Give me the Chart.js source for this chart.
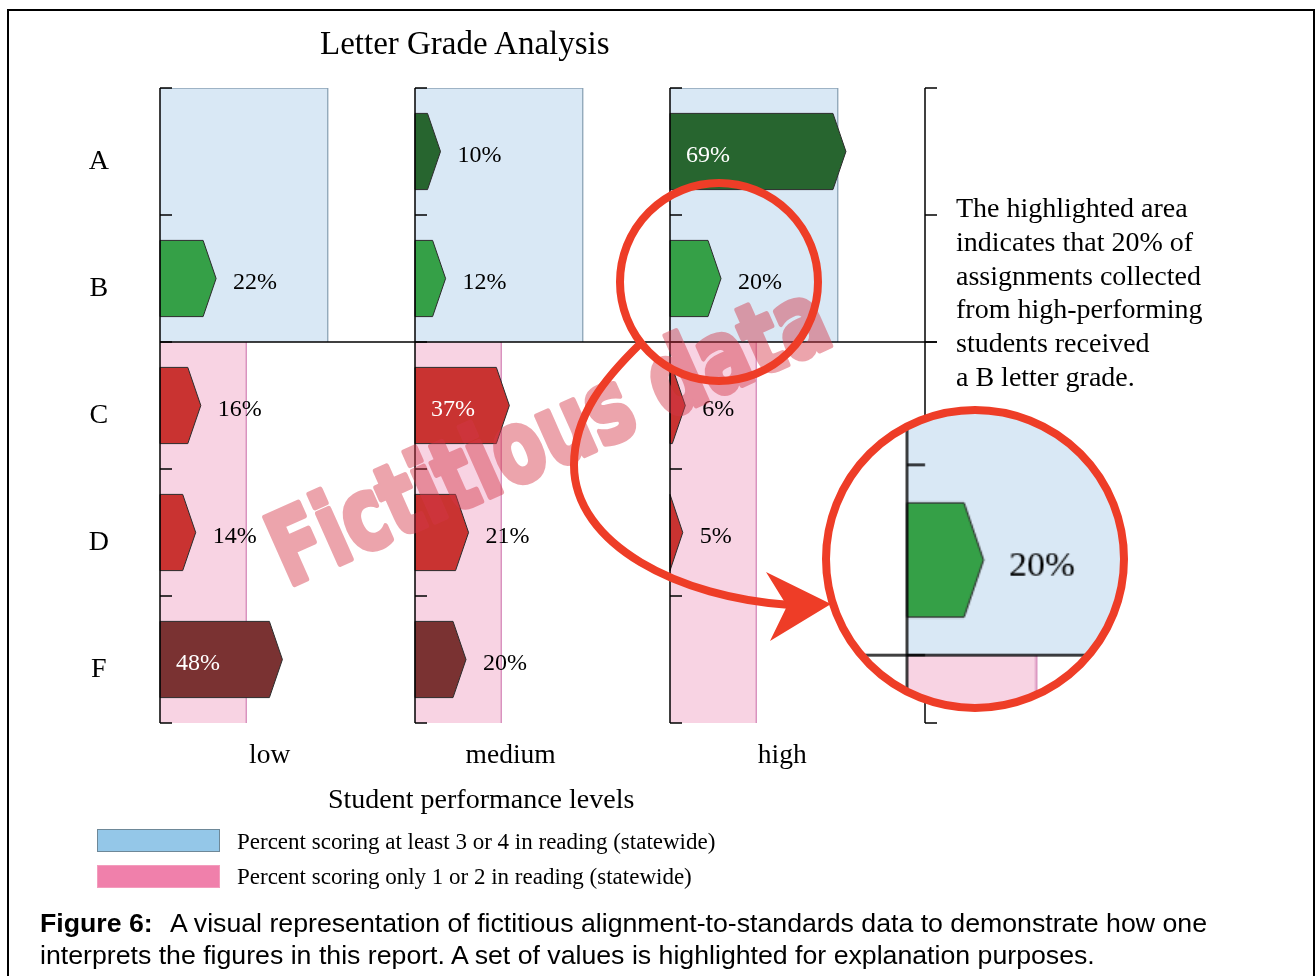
<!DOCTYPE html>
<html>
<head>
<meta charset="utf-8">
<title>Letter Grade Analysis</title>
<script src="https://cdn.jsdelivr.net/npm/chart.js@4.4.1/dist/chart.umd.min.js"></script>
<style>
  body { margin: 0; background: #fff; width: 1316px; height: 976px; overflow: hidden; position: relative; }
  #chart { position: absolute; left: 0; top: 0; }
  #frame { position: absolute; left: 7px; top: 9px; width: 1304px; height: 990px;
           border: 2px solid #000; border-bottom: none; }
  .serif { position: absolute; font-family: 'Liberation Serif', 'Times New Roman', serif; color: #000; white-space: nowrap; }
  #title { left: 320px; top: 24px; font-size: 33px; line-height: 38px; }
  #xtitle { left: 328px; top: 783px; font-size: 28px; line-height: 32px; }
  #note { left: 956px; top: 191px; font-size: 28px; line-height: 33.8px; }
  .swatch { position: absolute; left: 97px; width: 121px; height: 21px; }
  #swBlue { top: 829px; background: #94c7e8; border: 1px solid #6e8898; }
  #swPink { top: 865px; background: #f080ab; border: 1px solid #f39cbd; }
  .legtext { left: 237px; font-size: 23px; line-height: 26px; }
  #caption { position: absolute; left: 40px; top: 907px; font-family: 'Liberation Sans', Arial, sans-serif;
             font-size: 26.7px; line-height: 32px; color: #000; white-space: nowrap; }
  #caption b { margin-right: 4px; }
</style>
</head>
<body>
<div id="frame"></div>
<canvas id="chart" width="1316" height="976"></canvas>
<div class="serif" id="title">Letter Grade Analysis</div>
<div class="serif" id="xtitle">Student performance levels</div>
<div class="serif" id="note">The highlighted area<br>indicates that 20% of<br>assignments collected<br>from high-performing<br>students received<br>a B letter grade.</div>
<div class="swatch" id="swBlue"></div>
<div class="serif legtext" style="top:829px">Percent scoring at least 3 or 4 in reading (statewide)</div>
<div class="swatch" id="swPink"></div>
<div class="serif legtext" style="top:864px">Percent scoring only 1 or 2 in reading (statewide)</div>
<div id="caption"><b>Figure 6:</b>&nbsp; A visual representation of fictitious alignment-to-standards data to demonstrate how one<br>interprets the figures in this report. A set of values is highlighted for explanation purposes.</div>

<script>
// letter grades (rows) and student performance levels (panels)
const grades = ['A', 'B', 'C', 'D', 'F'];
const levels = ['low', 'medium', 'high'];

// percent of assignments receiving each grade, per performance level
const lowPct = [null, 22, 16, 14, 48];
const mediumPct = [10, 12, 37, 21, 20];
const highPct = [69, 20, 6, 5, null];

// statewide reading bands behind the bars
const readingAtLeast3 = [66, 66, null, null, null];
const readingOnly1or2 = [null, null, 34, 34, 34];

const gradeColors = ['#27652f', '#35a047', '#c93331', '#c93331', '#7a3232'];
const SERIF = "'Liberation Serif', 'Times New Roman', serif";
const RED = '#ee3d27';
const BLUE_BAND = '#d9e8f5';

Chart.defaults.font.family = SERIF;
Chart.defaults.color = '#000';

const panelIds = ['xLow', 'xMed', 'xHigh'];
const panelValues = [lowPct, mediumPct, highPct];
const panelLabelAt = [43, 37.5, 44];

const datasets = [];
panelIds.forEach((id, k) => {
  datasets.push({
    label: 'Percent scoring at least 3 or 4 in reading (statewide)',
    data: readingAtLeast3,
    xAxisID: id,
    backgroundColor: BLUE_BAND,
    borderColor: '#8aa2b4',
    borderWidth: c => ({ top: c.dataIndex === 0 ? 1 : 0, right: 1.5, bottom: 0, left: 0 }),
    barPercentage: 1,
    categoryPercentage: 1,
    grouped: false,
    order: 2,
  });
  datasets.push({
    label: 'Percent scoring only 1 or 2 in reading (statewide)',
    data: readingOnly1or2,
    xAxisID: id,
    backgroundColor: '#f8d3e3',
    borderColor: '#d993bf',
    borderWidth: { top: 0, right: 1.5, bottom: 0, left: 0 },
    barPercentage: 1,
    categoryPercentage: 1,
    grouped: false,
    order: 2,
  });
  datasets.push({
    label: levels[k],
    data: panelValues[k],
    xAxisID: id,
    arrow: true,
    backgroundColor: 'rgba(0,0,0,0)',
    borderWidth: 0,
    barPercentage: 0.6,
    categoryPercentage: 1,
    grouped: false,
    order: 1,
  });
});

function panelScale(k) {
  return {
    axis: 'x',
    type: 'linear',
    position: 'bottom',
    stack: 'panels',
    min: 0,
    max: 100,
    grid: { display: false, drawTicks: false },
    border: { display: false },
    afterBuildTicks: s => { s.ticks = [{ value: panelLabelAt[k] }]; },
    afterFit: s => { s.height = 60; },
    ticks: {
      callback: () => levels[k],
      font: { size: 27.5 },
      padding: 16,
      maxRotation: 0,
      autoSkip: false,
    },
  };
}

function rowBounds(chart) {
  const y = chart.scales.y;
  const area = chart.chartArea;
  const b = [area.top];
  for (let i = 0; i < grades.length - 1; i++) {
    b.push((y.getPixelForValue(i) + y.getPixelForValue(i + 1)) / 2);
  }
  b.push(area.bottom);
  return b;
}

function drawWatermark(chart) {
  const dpr = chart.currentDevicePixelRatio || 1;
  const off = document.createElement('canvas');
  off.width = chart.canvas.width;
  off.height = chart.canvas.height;
  const o = off.getContext('2d');
  o.scale(dpr, dpr);
  o.translate(288, 587);
  o.rotate(-24 * Math.PI / 180);
  o.font = "bold 100px 'DejaVu Sans', sans-serif";
  const text = 'Fictitious data';
  const w = o.measureText(text).width;
  o.scale(600 / w, 1);
  o.fillStyle = o.strokeStyle = 'rgb(212, 55, 72)';
  o.lineWidth = 6;
  o.lineJoin = 'round';
  o.strokeText(text, 0, 0);
  o.fillText(text, 0, 0);
  const ctx = chart.ctx;
  ctx.save();
  ctx.setTransform(1, 0, 0, 1, 0, 0);
  ctx.globalAlpha = 0.45;
  ctx.drawImage(off, 0, 0);
  ctx.restore();
}

const figurePlugin = {
  id: 'figure',
  afterDatasetDraw(chart, args) {
    const ds = chart.data.datasets[args.index];
    if (!ds.arrow) return;
    const ctx = chart.ctx;
    args.meta.data.forEach((bar, i) => {
      const v = ds.data[i];
      if (v == null) return;
      const half = bar.height / 2;
      const tip = Math.min(13, bar.x - bar.base);
      ctx.save();
      ctx.beginPath();
      ctx.moveTo(bar.base, bar.y - half);
      ctx.lineTo(bar.x - tip, bar.y - half);
      ctx.lineTo(bar.x, bar.y);
      ctx.lineTo(bar.x - tip, bar.y + half);
      ctx.lineTo(bar.base, bar.y + half);
      ctx.closePath();
      ctx.fillStyle = gradeColors[i];
      ctx.fill();
      ctx.strokeStyle = '#2b2b2b';
      ctx.lineWidth = 1;
      ctx.stroke();
      const inside = v >= 30;
      ctx.font = '24px ' + SERIF;
      ctx.textBaseline = 'middle';
      ctx.textAlign = 'left';
      ctx.fillStyle = inside ? '#fff' : '#000';
      ctx.fillText(v + '%', inside ? bar.base + 16 : bar.x + 17, bar.y + 4);
      ctx.restore();
    });
  },
  afterDatasetsDraw(chart) {
    const ctx = chart.ctx;
    const area = chart.chartArea;
    const bounds = rowBounds(chart);
    const xs = panelIds.map(id => chart.scales[id].getPixelForValue(0));
    xs.push(area.right);
    ctx.save();
    ctx.strokeStyle = '#000';
    ctx.lineWidth = 1.5;
    xs.forEach(x => {
      ctx.beginPath();
      ctx.moveTo(x, area.top);
      ctx.lineTo(x, area.bottom);
      ctx.stroke();
      bounds.forEach(b => {
        ctx.beginPath();
        ctx.moveTo(x, b);
        ctx.lineTo(x + 12, b);
        ctx.stroke();
      });
    });
    // divider between B and C
    ctx.beginPath();
    ctx.moveTo(area.left, bounds[2]);
    ctx.lineTo(area.right + 12, bounds[2]);
    ctx.stroke();
    ctx.restore();
  },
  afterDraw(chart) {
    const ctx = chart.ctx;
    const dpr = chart.currentDevicePixelRatio || 1;

    // magnified inset of the highlighted high / B bar
    const cx = 975, cy = 559, r = 149, zoom = 1.5;
    const ax = chart.scales.xHigh.getPixelForValue(0);
    const ay = chart.scales.y.getPixelForValue(1);
    const dx0 = 907, dy0 = 560;
    const srcTop = rowBounds(chart)[1] - 23;            // just under the A bar
    const sx = ax + (cx - r - dx0) / zoom;
    const sw = 2 * r / zoom;
    const sBottom = ay + (cy + r - dy0) / zoom;
    const dTop = dy0 + (srcTop - ay) * zoom;
    ctx.save();
    ctx.beginPath();
    ctx.arc(cx, cy, r, 0, Math.PI * 2);
    ctx.clip();
    ctx.fillStyle = '#fff';
    ctx.fillRect(cx - r, cy - r, 2 * r, 2 * r);
    ctx.fillStyle = BLUE_BAND;
    ctx.fillRect(dx0, cy - r, cx + r - dx0, dTop - (cy - r));
    ctx.drawImage(chart.canvas, sx * dpr, srcTop * dpr, sw * dpr, (sBottom - srcTop) * dpr,
      cx - r, dTop, 2 * r, cy + r - dTop);
    ctx.restore();

    drawWatermark(chart);

    // highlight circles and curved arrow
    ctx.save();
    ctx.strokeStyle = RED;
    ctx.fillStyle = RED;
    ctx.lineWidth = 8;
    ctx.beginPath();
    ctx.arc(719, 282, 99, 0, Math.PI * 2);
    ctx.stroke();
    ctx.beginPath();
    ctx.arc(cx, cy, r, 0, Math.PI * 2);
    ctx.stroke();
    ctx.beginPath();
    ctx.moveTo(641, 343);
    ctx.bezierCurveTo(605, 378, 574, 415, 574, 465);
    ctx.bezierCurveTo(574, 545, 680, 598, 790, 605);
    ctx.stroke();
    ctx.beginPath();
    ctx.moveTo(766, 572);
    ctx.lineTo(831, 604);
    ctx.lineTo(770, 641);
    ctx.lineTo(787, 606);
    ctx.closePath();
    ctx.fill();
    ctx.restore();
  },
};

new Chart(document.getElementById('chart'), {
  type: 'bar',
  data: { labels: grades, datasets },
  options: {
    indexAxis: 'y',
    responsive: false,
    animation: false,
    layout: { padding: { left: 80, right: 391, top: 88, bottom: 193 } },
    scales: {
      y: {
        type: 'category',
        position: 'left',
        grid: { display: false, drawTicks: false },
        border: { display: false },
        afterFit: s => { s.width = 80; },
        ticks: { font: { size: 28 }, padding: 51, crossAlign: 'center', labelOffset: 10 },
      },
      xLow: panelScale(0),
      xMed: panelScale(1),
      xHigh: panelScale(2),
    },
    plugins: {
      legend: { display: false },
      tooltip: { enabled: false },
      title: { display: false },
    },
  },
  plugins: [figurePlugin],
});
</script>
</body>
</html>
